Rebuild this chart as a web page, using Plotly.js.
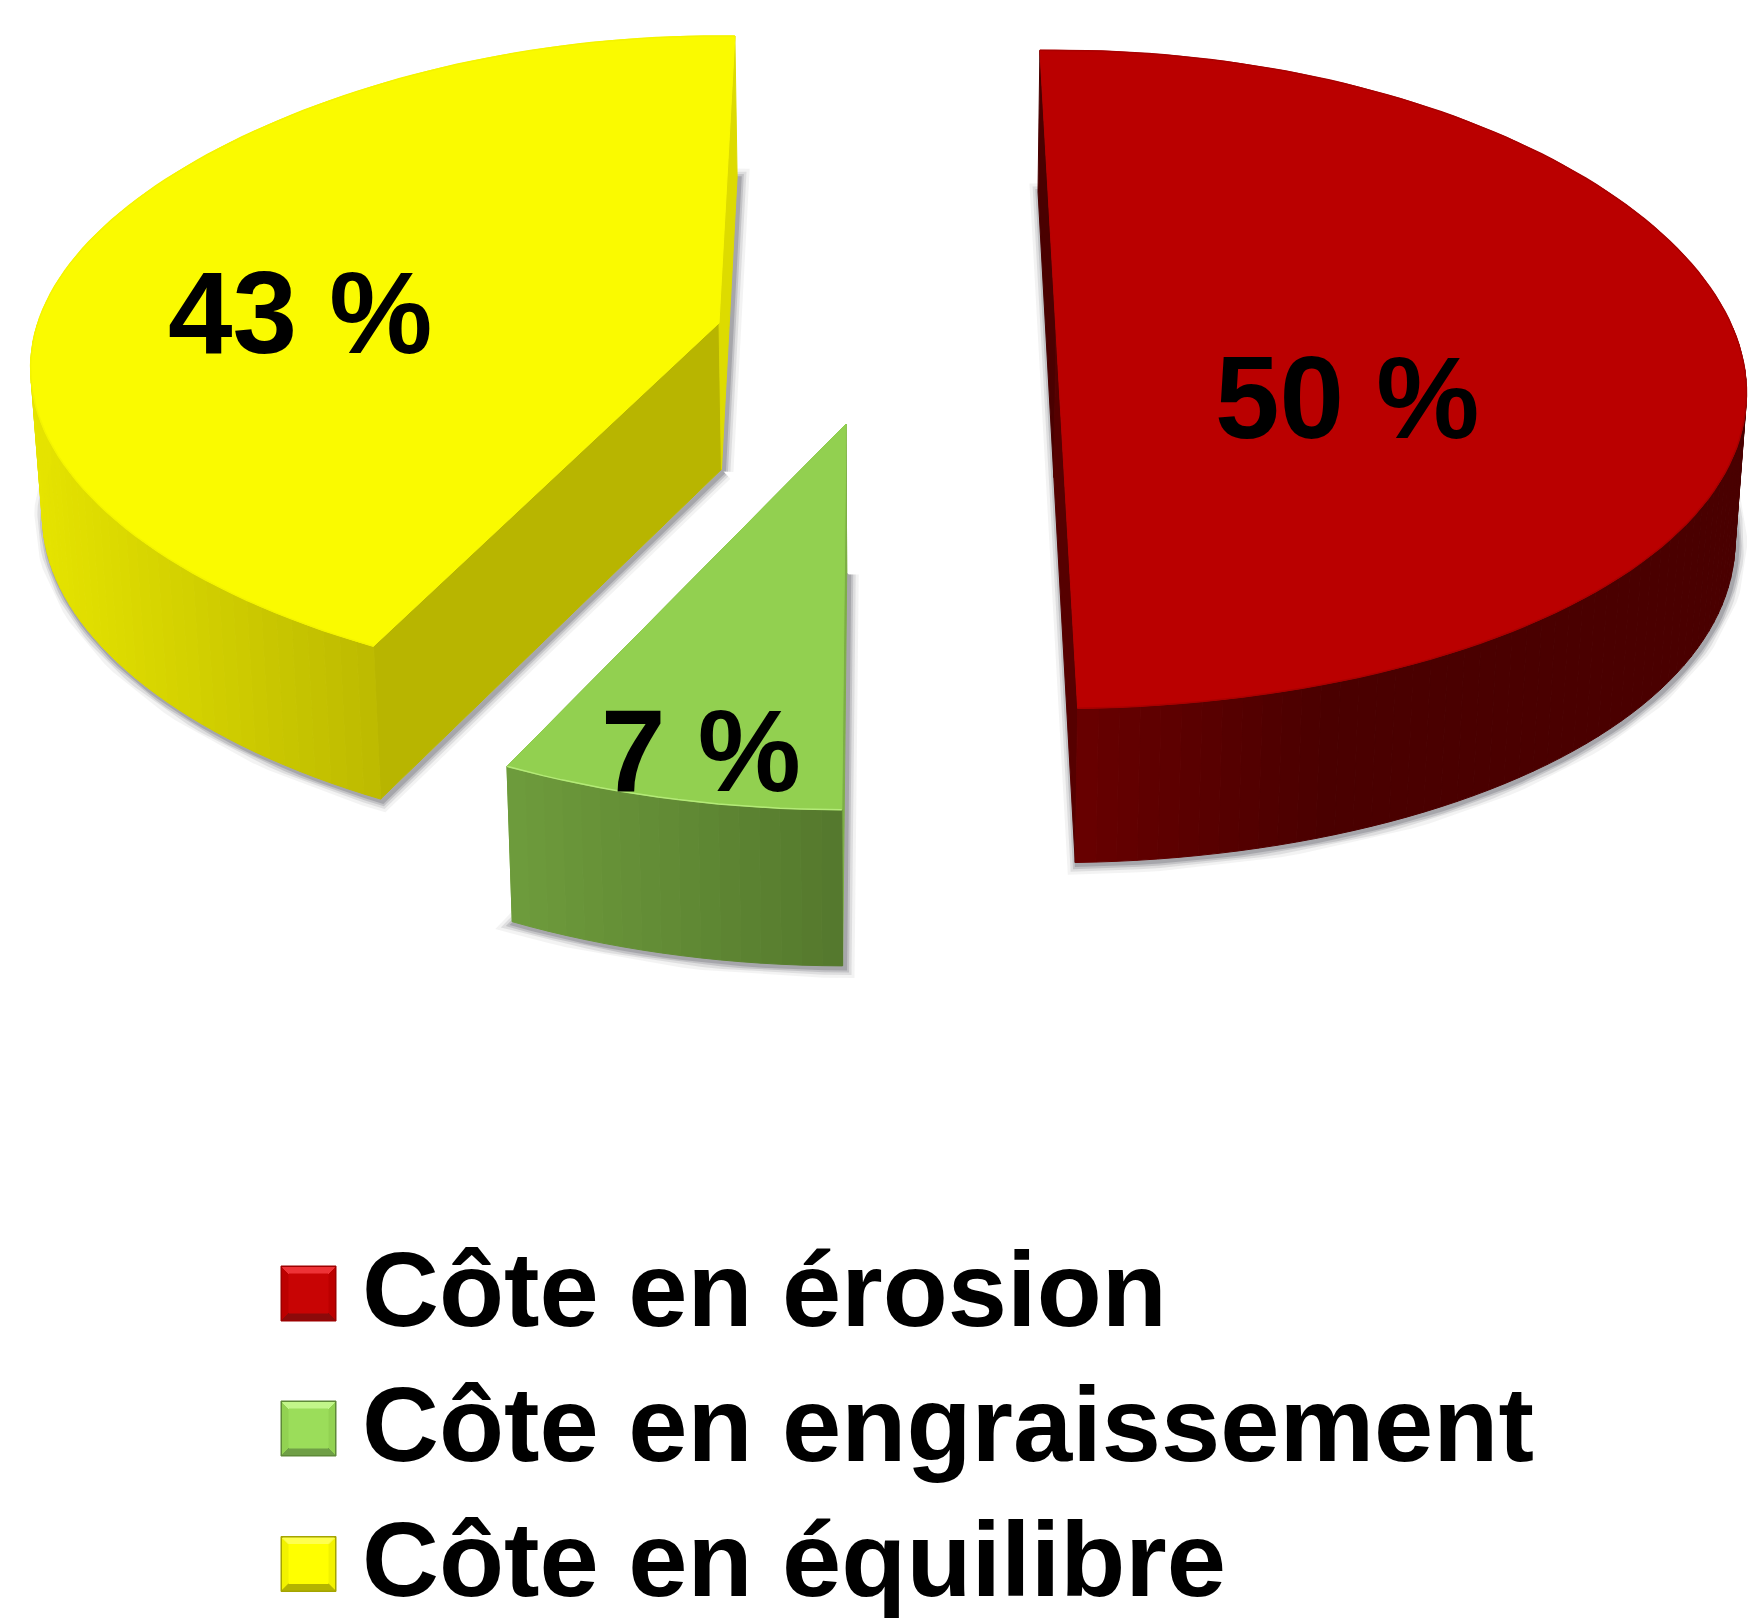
<!DOCTYPE html>
<html><head><meta charset="utf-8">
<script src="https://cdn.plot.ly/plotly-3.0.1.min.js"></script>
<style>html,body{margin:0;padding:0;background:#fff}</style></head>
<body><div id="chart" style="width:1748px;height:1620px"></div>
<script>
const categories = ['Côte en érosion', 'Côte en engraissement', 'Côte en équilibre'];
const shares = [50, 7, 43];
const topColors = ['#BA0000', '#92D050', '#FAFA00'];
const startFaceColors = ['#4A0000', '#7DAF45', '#B8B500'];
const endFaceColors = ['#560000', '#7DAF45', '#DDDB00'];
const wallLeftColors = [[0x68,0,0], [0x6E,0x9C,0x3C], [0xE6,0xE4,0]];
const wallRightColors = [[0x4A,0,0], [0x54,0x78,0x2D], [0xBC,0xB9,0]];
const wallRampX = [[1075,1320],[514,844],[40,385]];
const edgeColors = ['#A80000', '#B4EA78', '#F4F400'];
const sliceTilt = [-1.55, 0.3, 1.5];
const apexes = [[1056,331],[846,424],[719,323]];
const halfHeights = [322,329,323];
const perspectives = [0.147,0.147,0.125];
const sag = [[14,0],[0,0],[6,16]];
const labelPos = [[1347,398],[701,751],[300,313]];
const legendRowY = [1293.5,1428.5,1564];
const legendTextY = [1289,1424,1559];
const legendPalette = [
 {face:'#C80404',top:'#EE3236',bottom:'#8C0A0A',side:'#BC0000',border:'#9C0000'},
 {face:'#9BDD5A',top:'#C2F68A',bottom:'#6F9F46',side:'#92D252',border:'#5E8A38'},
 {face:'#FFFF00',top:'#FFFF50',bottom:'#B4B400',side:'#F2F200',border:'#A4A400'}];
const rx = 683, legendX = 308.5, legendHalf = 27.5, legendTextX = 360;

const rad = d => d*Math.PI/180;
function topPt(i, deg){
  const c = Math.cos(rad(deg)), s = Math.sin(rad(deg)), f = 1/(1+perspectives[i]*c);
  return [apexes[i][0]+rx*s*f, apexes[i][1]-halfHeights[i]*c*f+s*s*(sag[i][0]+sag[i][1]*c)];
}
function lower(p){ return [p[0]-0.0135*(p[0]-900), p[1]+146+0.02*(p[1]-300)]; }
function poly(points, color, name, lineColor){
  return {type:'scatter', mode:'lines', x:points.map(p=>p[0]).concat(points[0][0]),
    y:points.map(p=>p[1]).concat(points[0][1]), fill:'toself', fillcolor:color,
    line:{color:lineColor||color,width:1}, hoverinfo:'skip', showlegend:false, name:name||''};
}
const traces = [];
let cum = 0;
shares.forEach((v,i)=>{
  const a0 = cum*3.6+sliceTilt[i], a1 = a0+v*3.6; cum += v;
  const arc = []; const n = Math.ceil((a1-a0)/1.5);
  for(let k=0;k<=n;k++) arc.push(topPt(i,a0+(a1-a0)*k/n));
  const apex = apexes[i];
  const under = [lower(apex)].concat(arc.map(lower));
  [[20,.08],[14,.14],[9,.22],[5,.3]].forEach(s=>{
    traces.push({type:'scatter',mode:'lines',x:under.map(p=>p[0]+2).concat(under[0][0]+2),
      y:under.map(p=>p[1]+2).concat(under[0][1]+2),
      line:{color:`rgba(100,100,108,${s[1]})`,width:s[0]},hoverinfo:'skip',showlegend:false});
  });
  traces.push(poly([apex,arc[0],lower(arc[0]),lower(apex)],startFaceColors[i]));
  traces.push(poly([apex,arc[n],lower(arc[n]),lower(apex)],endFaceColors[i]));
  for(let k=0;k<n;k++){
    const mid = a0+(a1-a0)*(k+.5)/n;
    if(Math.cos(rad(mid))>0.05) continue;
    const p=arc[k], q=arc[k+1], lp=lower(p), lq=lower(q);
    const t=Math.min(1,Math.max(0,(((lp[0]+lq[0])/2)-wallRampX[i][0])/(wallRampX[i][1]-wallRampX[i][0])));
    const c=wallLeftColors[i].map((l,j)=>Math.round(l+(wallRightColors[i][j]-l)*t));
    traces.push(poly([p,q,lq,lp],`rgb(${c})`));
  }
  traces.push(poly([apex].concat(arc),topColors[i],categories[i]));
  traces.push({type:'scatter',mode:'lines',x:arc.map(p=>p[0]),y:arc.map(p=>p[1]),
    line:{color:edgeColors[i],width:1.5},hoverinfo:'skip',showlegend:false});
});
categories.forEach((c,i)=>{
  const y=legendRowY[i], x=legendX, h=legendHalf, b=8, e=1.5, p=legendPalette[i];
  traces.push(poly([[x-h,y-h],[x+h,y-h],[x+h,y+h],[x-h,y+h]],p.border));
  const o=h-e, m=h-b;
  traces.push(poly([[x-o,y-o],[x-m,y-m],[x-m,y+m],[x-o,y+o]],p.side));
  traces.push(poly([[x+o,y-o],[x+m,y-m],[x+m,y+m],[x+o,y+o]],p.side));
  traces.push(poly([[x-o,y-o],[x+o,y-o],[x+m,y-m],[x-m,y-m]],p.top));
  traces.push(poly([[x-o,y+o],[x+o,y+o],[x+m,y+m],[x-m,y+m]],p.bottom));
  traces.push(poly([[x-m,y-m],[x+m,y-m],[x+m,y+m],[x-m,y+m]],p.face));
});
const fam = '"Liberation Sans", Arial, sans-serif';
const annotations = [];
shares.forEach((v,i)=>annotations.push({x:labelPos[i][0],y:labelPos[i][1],xref:'x',yref:'y',showarrow:false,
  text:'<b>'+v+' %</b>',xanchor:'center',yanchor:'middle',font:{family:fam,size:116,color:'#000'}}));
categories.forEach((c,i)=>annotations.push({x:legendTextX,y:legendTextY[i],xref:'x',yref:'y',showarrow:false,
  text:'<b>'+c+'</b>',xanchor:'left',yanchor:'middle',align:'left',font:{family:fam,size:106.5,color:'#000'}}));
Plotly.newPlot('chart',traces,{
  width:1748,height:1620,margin:{l:0,r:0,t:0,b:0},paper_bgcolor:'#fff',plot_bgcolor:'#fff',showlegend:false,
  xaxis:{visible:false,range:[0,1748],fixedrange:true},
  yaxis:{visible:false,range:[1620,0],fixedrange:true},
  annotations:annotations, hovermode:false
},{displayModeBar:false,staticPlot:true});
</script></body></html>
